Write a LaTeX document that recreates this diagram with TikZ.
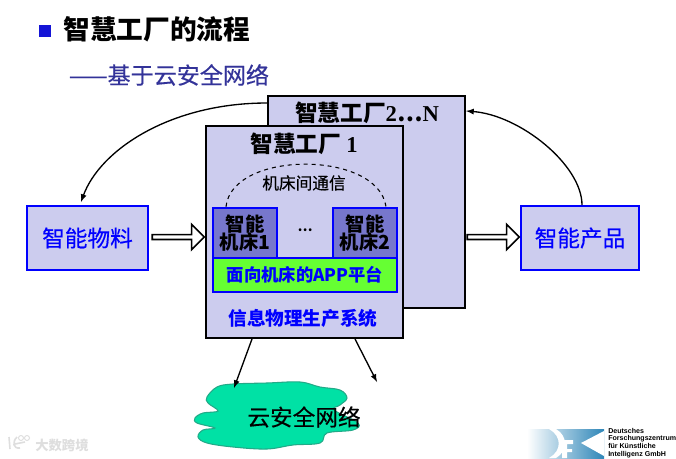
\documentclass[tikz,border=0pt]{standalone}
\usepackage{fontspec}
\setmainfont{Noto Sans CJK SC}
\newfontfamily\midfont{Noto Sans CJK SC}[FakeBold=0.4]
\newfontfamily\latinfont{Liberation Sans}
\newfontfamily\serifbold{Liberation Serif}
\usetikzlibrary{shapes.arrows}
\definecolor{boxfill}{HTML}{CCCCEE}
\definecolor{machinefill}{HTML}{7777CC}
\definecolor{appfill}{HTML}{66FF33}
\definecolor{cloudfill}{HTML}{00E1A5}
\definecolor{cloudline}{HTML}{22AA88}
\definecolor{titleblue}{HTML}{333399}
\definecolor{logoblue}{HTML}{2E86B8}
\tikzset{
  factorybox/.style={draw=black,line width=1.5pt,fill=boxfill,minimum width=148pt,minimum height=159pt,inner sep=0pt},
  endbox/.style={draw=blue,line width=1.5pt,fill=boxfill,text=blue,minimum width=91pt,minimum height=48pt,inner sep=0pt,font=\midfont\fontsize{17}{20}\selectfont},
  machinebox/.style={draw=blue,line width=1.5pt,fill=machinefill,minimum width=48pt,minimum height=38pt,inner sep=0pt,align=center,font=\fontsize{14.5}{17}\bfseries\selectfont},
  bigarrow/.style={draw=black,line width=1.2pt,fill=white,single arrow,single arrow head extend=2.5pt,minimum height=39pt,minimum width=19pt,inner sep=0pt},
  flowarrow/.style={draw=black,line width=1pt,-latex},
  plaintext/.style={inner sep=0pt},
}
\begin{document}
\begin{tikzpicture}[x=0.75pt,y=-0.75pt]
  \useasboundingbox (0,0) rectangle (676,458);
  % Heading
  \fill[blue!60!titleblue] (39,25) rectangle (51,37);
  \node[plaintext,font=\fontsize{20}{24}\bfseries\selectfont] (title) at (157,29) {智慧工厂的流程};
  \node[plaintext,text=titleblue,font=\midfont\fontsize{17.3}{20}\selectfont] (subtitle) at (169,75) {——基于云安全网络};
  % Factories
  \node[factorybox] (factory2) at (366.5,202) {};
  \node[plaintext,font=\fontsize{17}{20}\bfseries\selectfont] (factory2label) at (367,113) {智慧工厂{\serifbold\bfseries 2}⋯{\serifbold\bfseries N}};
  \node[factorybox] (factory1) at (304.5,232) {};
  \node[plaintext,font=\fontsize{17}{20}\bfseries\selectfont] (factory1label) at (304,144) {智慧工厂 {\serifbold\bfseries 1}};
  % Machines
  \node[machinebox] (machine1) at (245,233) {智能\\[-3pt]机床1};
  \node[machinebox] (machine2) at (365,233) {智能\\[-3pt]机床2};
  \node[plaintext,font=\bfseries] (dots) at (305,230) {…};
  \node[draw=blue,line width=1.5pt,fill=appfill,text=blue,minimum width=138pt,minimum height=26pt,inner sep=0pt,font=\fontsize{13}{16}\bfseries\selectfont] (app) at (305,275) {面向机床的APP平台};
  \node[plaintext,text=blue,font=\fontsize{14}{17}\bfseries\selectfont] (cps) at (303,318) {信息物理生产系统};
  \draw[dashed,line width=0.8pt] ([xshift=-39pt]machine1.north east) .. controls (232,150) and (378,150) .. ([xshift=-9pt]machine2.north east);
  \node[plaintext,font=\midfont\fontsize{12.5}{15}\selectfont] (commlabel) at (304,183) {机床间通信};
  % Material and product
  \node[endbox] (material) at (87.5,238) {智能物料};
  \node[endbox,minimum width=89pt] (product) at (580,238) {智能产品};
  \node[bigarrow] (arrowin) at (177,237) {};
  \node[bigarrow] (arrowout) at (492,237) {};
  \coordinate (materialtop) at (81,202);
  \coordinate (producttop) at (582,205);
  \coordinate (factory2left) at (267,103);
  \coordinate (factory2right) at (466,111);
  \draw[flowarrow] (factory2left) .. controls (170,103) and (100,150) .. (materialtop);
  \draw[flowarrow] (producttop) .. controls (582,165) and (520,115) .. (factory2right);
  % Cloud
  \draw[cloudline,fill=cloudfill,line width=0.8pt] plot[smooth cycle,tension=0.6] coordinates {
    (207,397) (217,387) (233,384) (267,383) (300,382) (320,387) (340,390) (347,398) (340,405) (334,410)
    (358,423) (353,430) (327,433) (320,443) (293,445) (267,449) (233,447) (207,443) (198,437) (203,430)
    (215,428) (197,423) (195,418) (203,413) (218,411) (208,403)};
  \node[plaintext,font=\midfont\fontsize{17}{20}\selectfont] (cloudlabel) at (304,417) {云安全网络};
  \coordinate (cloudtop) at (234,388);
  \coordinate (freeend) at (377,382);
  \draw[flowarrow] (factory1.south -| 252,0) -- (cloudtop);
  \draw[flowarrow] (factory1.south -| 355,0) -- (freeend);
  % Watermark
  \node[plaintext,text=black!13,font=\fontsize{10}{12}\bfseries\selectfont] (watermark) at (62,445) {大数跨境};
  \draw[black!13,line width=1.2pt] (9,437) -- (10,449) (17,437) .. controls (12,442) and (13,449) .. (20,448) (15,444) -- (25,442);
  \draw[black!13,line width=0.7pt] (21,438) circle (2.5) (27,438) circle (2.5);
  % Logo
  \shade[left color=white,right color=logoblue] (527,429) rectangle (604,458);
  \fill[white] (549,429) -- (556,429) .. controls (568,436) and (568,451) .. (556,458) -- (549,458) .. controls (562,451) and (562,436) .. cycle;
  \fill[white] (562,440) rectangle (573,444) (562,440) rectangle (567,458) (567,449) rectangle (572,452);
  \fill[white] (581,443) -- (604,431) -- (604,456) -- cycle;
  \node[plaintext,anchor=north west,align=left,font=\latinfont\fontsize{5.3}{5.7}\bfseries\selectfont] (logotext) at (608,428) {Deutsches\\Forschungszentrum\\für Künstliche\\Intelligenz GmbH};
\end{tikzpicture}
\end{document}
